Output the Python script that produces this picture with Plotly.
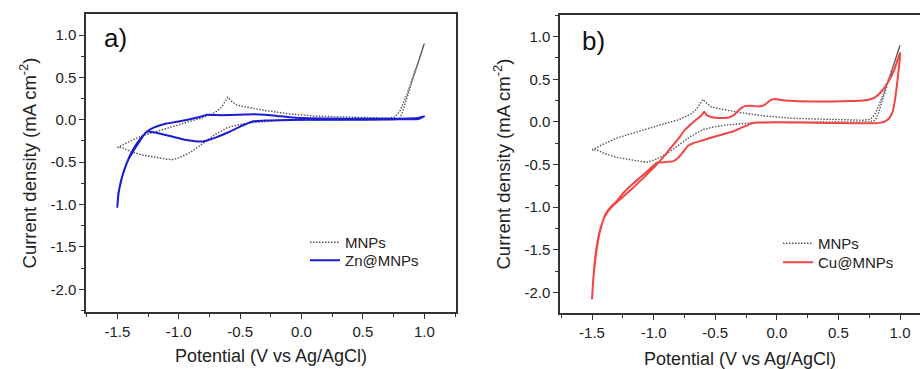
import plotly.graph_objects as go

# ---------------- data ----------------
# MNPs (bare magnetite) CV, closed loop: anodic branch then cathodic branch
mnps_v = [-1.5, -1.45, -1.4, -1.3, -1.2, -1.1, -1.0, -0.9, -0.8, -0.7, -0.65, -0.6, -0.57, -0.53, -0.45,
          -0.3, -0.1, 0.1, 0.3, 0.5, 0.7, 0.76, 0.8, 0.85, 0.9, 0.95, 1.0,
          0.95, 0.9, 0.85, 0.82, 0.8, 0.75, 0.5, 0.2, 0.0, -0.2, -0.3, -0.4, -0.5, -0.6, -0.7, -0.8,
          -0.9, -1.0, -1.05, -1.1, -1.2, -1.3, -1.4, -1.45, -1.5]
mnps_i = [-0.33, -0.29, -0.255, -0.19, -0.145, -0.1, -0.055, -0.015, 0.025, 0.09, 0.15, 0.265, 0.22, 0.175, 0.15,
          0.11, 0.07, 0.045, 0.035, 0.025, 0.02, 0.03, 0.1, 0.27, 0.47, 0.68, 0.9,
          0.66, 0.45, 0.22, 0.08, 0.02, 0.0, 0.0, 0.0, -0.005, -0.01, -0.02, -0.035, -0.055, -0.09, -0.17, -0.28,
          -0.38, -0.45, -0.47, -0.465, -0.44, -0.415, -0.37, -0.335, -0.32]

# Zn@MNPs CV
zn_v = [-1.5, -1.49, -1.475, -1.45, -1.42, -1.39, -1.35, -1.31, -1.28, -1.25,
        -1.2, -1.15, -1.1, -1.0, -0.9, -0.8, -0.77, -0.7, -0.6, -0.5, -0.4, -0.3, -0.2, -0.1, 0.0,
        0.2, 0.5, 0.8, 0.95, 1.0,
        0.95, 0.8, 0.5, 0.2, 0.0, -0.2, -0.3, -0.4, -0.5, -0.6, -0.7, -0.8, -0.85, -0.95, -1.05,
        -1.15, -1.22, -1.26,
        -1.29, -1.33, -1.37, -1.41, -1.44, -1.47, -1.49, -1.5]
zn_i = [-1.03, -0.86, -0.76, -0.62, -0.5, -0.4, -0.3, -0.22, -0.17, -0.13,
        -0.09, -0.065, -0.045, -0.02, 0.01, 0.045, 0.06, 0.055, 0.055, 0.06, 0.065, 0.06, 0.045, 0.03, 0.02,
        0.015, 0.012, 0.012, 0.02, 0.04,
        0.01, 0.005, 0.0, 0.0, 0.0, -0.005, -0.01, -0.02, -0.08, -0.15, -0.21, -0.255, -0.255, -0.235, -0.2,
        -0.165, -0.145, -0.14,
        -0.19, -0.28, -0.37, -0.47, -0.58, -0.72, -0.87, -1.03]

# Cu@MNPs CV
cu_v = [-1.5, -1.49, -1.475, -1.455, -1.43, -1.4, -1.36, -1.32, -1.25, -1.18, -1.1, -1.03, -0.975,
        -0.92, -0.87, -0.8, -0.75, -0.7, -0.65, -0.61, -0.59, -0.57, -0.54, -0.5, -0.45, -0.4, -0.35,
        -0.3, -0.26, -0.2, -0.15, -0.1, -0.05, -0.02, 0.05, 0.15, 0.3, 0.45, 0.6, 0.7, 0.76, 0.8,
        0.85, 0.9, 0.95, 0.99, 1.0,
        1.0, 0.98, 0.96, 0.94, 0.91, 0.87, 0.8, 0.6, 0.4, 0.2, 0.0, -0.15, -0.2, -0.25, -0.3, -0.35,
        -0.4, -0.5, -0.6, -0.68, -0.72, -0.76, -0.8, -0.84, -0.9, -0.975,
        -1.03, -1.1, -1.18, -1.25, -1.3, -1.35, -1.39, -1.42, -1.45, -1.47, -1.49, -1.5]
cu_i = [-2.08, -1.85, -1.6, -1.4, -1.24, -1.12, -1.03, -0.97, -0.88, -0.79, -0.68, -0.58, -0.5,
        -0.41, -0.32, -0.2, -0.1, -0.03, 0.03, 0.08, 0.12, 0.08, 0.06, 0.05, 0.045, 0.05, 0.08,
        0.15, 0.185, 0.19, 0.18, 0.2, 0.255, 0.27, 0.255, 0.245, 0.24, 0.24, 0.245, 0.25, 0.265, 0.29,
        0.36, 0.46, 0.6, 0.77, 0.81,
        0.78, 0.5, 0.27, 0.12, 0.04, 0.0, -0.015, -0.015, -0.012, -0.008, -0.005, -0.008, -0.015,
        -0.045, -0.075, -0.11,
        -0.13, -0.17, -0.215, -0.25, -0.28, -0.35, -0.42, -0.46, -0.47, -0.48,
        -0.55, -0.64, -0.74, -0.84, -0.93, -1.0, -1.08, -1.2, -1.38, -1.58, -1.85, -2.08]

x_tickvals = [-1.5, -1.0, -0.5, 0.0, 0.5, 1.0]
x_ticktext = ["-1.5", "-1.0", "-0.5", "0.0", "0.5", "1.0"]
y_tickvals = [1.0, 0.5, 0.0, -0.5, -1.0, -1.5, -2.0]
y_ticktext = ["1.0", "0.5", "0.0", "-0.5", "-1.0", "-1.5", "-2.0"]

FONT = "Liberation Sans, Arial, sans-serif"
W, H = 920, 369
GRAY = "#555555"
BLUE = "#1c1cd2"
RED = "#f04646"
AX = "#333333"
DOT = "1.5px,1.5px"

fig = go.Figure()
fig.add_trace(go.Scatter(x=mnps_v, y=mnps_i, mode="lines", name="MNPs",
                         line=dict(color=GRAY, width=1.4, dash=DOT),
                         xaxis="x", yaxis="y", legend="legend"))
fig.add_trace(go.Scatter(x=zn_v, y=zn_i, mode="lines", name="Zn@MNPs",
                         line=dict(color=BLUE, width=2, shape="spline", smoothing=0.6),
                         xaxis="x", yaxis="y", legend="legend2"))
fig.add_trace(go.Scatter(x=mnps_v, y=mnps_i, mode="lines", name="MNPs",
                         line=dict(color=GRAY, width=1.4, dash=DOT),
                         xaxis="x2", yaxis="y2", legend="legend3"))
fig.add_trace(go.Scatter(x=cu_v, y=cu_i, mode="lines", name="Cu@MNPs",
                         line=dict(color=RED, width=2, shape="spline", smoothing=0.6),
                         xaxis="x2", yaxis="y2", legend="legend4"))


def xax(domain, rng, anchor, standoff):
    return dict(domain=domain, range=rng, anchor=anchor, showgrid=False, zeroline=False,
                showline=True, linecolor=AX, linewidth=1.5, mirror=True,
                ticks="outside", ticklen=5, tickwidth=1.2, tickcolor=AX,
                tickvals=x_tickvals, ticktext=x_ticktext,
                minor=dict(dtick=0.25, tick0=0, ticks="outside", ticklen=3, tickwidth=1, tickcolor=AX),
                tickfont=dict(family=FONT, size=15, color="#222"),
                title=dict(text="Potential (V vs Ag/AgCl)", font=dict(family=FONT, size=18, color="#222"),
                           standoff=standoff))


def yax(domain, rng, anchor, mirror):
    return dict(domain=domain, range=rng, anchor=anchor, showgrid=False, zeroline=False,
                showline=True, linecolor=AX, linewidth=1.5, mirror=mirror,
                ticks="outside", ticklen=5, tickwidth=1.2, tickcolor=AX,
                tickvals=y_tickvals, ticktext=y_ticktext,
                minor=dict(dtick=0.25, tick0=0, ticks="outside", ticklen=3, tickwidth=1, tickcolor=AX),
                tickfont=dict(family=FONT, size=15, color="#222"),
                title=dict(text="Current density (mA cm<sup>-2</sup>)",
                           font=dict(family=FONT, size=18.5, color="#222"), standoff=9))


def leg(xpx, toppx):
    return dict(x=xpx / W, y=1 - toppx / H, xanchor="left", yanchor="top",
                bgcolor="rgba(0,0,0,0)", borderwidth=0,
                font=dict(family=FONT, size=15, color="#222"))


fig.update_layout(
    width=W, height=H, margin=dict(l=0, r=0, t=0, b=0),
    paper_bgcolor="white", plot_bgcolor="white",
    showlegend=True,
    xaxis=xax([86 / W, 456 / W], [-1.755, 1.258], "y", 11),
    yaxis=yax([1 - 312 / H, 1 - 14 / H], [-2.268, 1.248], "x", True),
    xaxis2=xax([560 / W, 1.0], [-1.76, 1.162], "y2", 15),
    yaxis2=yax([1 - 313 / H, 1 - 15 / H], [-2.241, 1.254], "x2", False),
    legend=leg(305, 226),
    legend2=leg(305, 244),
    legend3=leg(778, 227),
    legend4=leg(778, 246),
    annotations=[
        dict(text="a)", x=102 / W, y=1 - 38 / H, xref="paper", yref="paper", xanchor="left",
             yanchor="middle", showarrow=False, font=dict(family=FONT, size=26, color="#111")),
        dict(text="b)", x=580 / W, y=1 - 41 / H, xref="paper", yref="paper", xanchor="left",
             yanchor="middle", showarrow=False, font=dict(family=FONT, size=26, color="#111")),
    ],
)

fig.write_html("out.html")
